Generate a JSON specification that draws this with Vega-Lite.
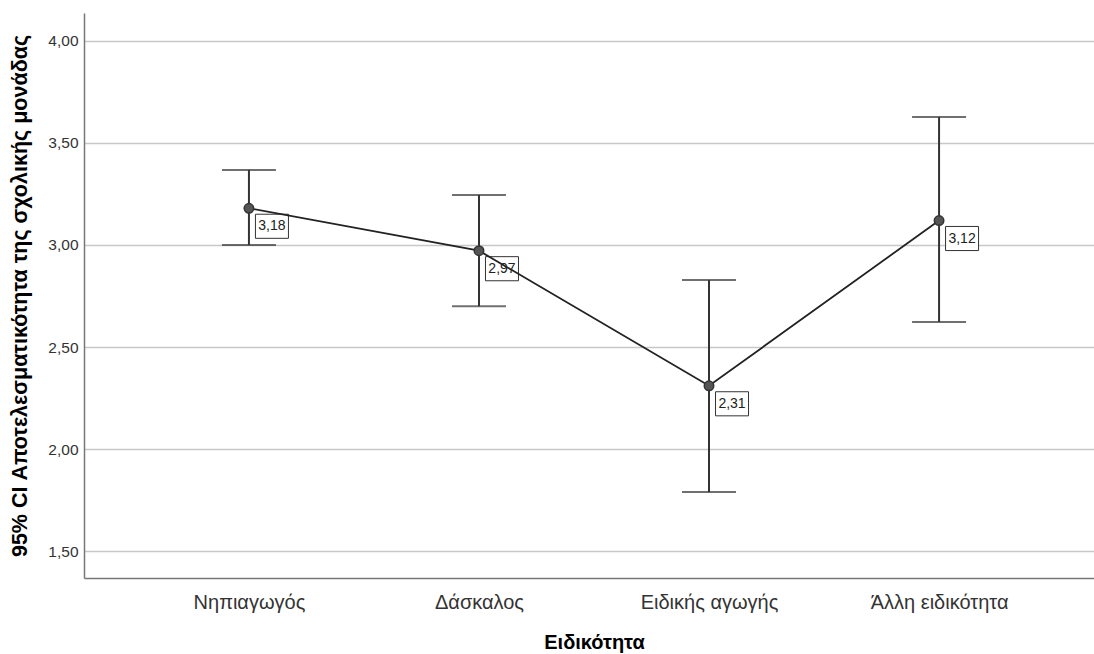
{
  "$schema": "https://vega.github.io/schema/vega-lite/v6.json",
  "width": 1020,
  "height": 565,
  "padding": {"left": 84, "top": 13, "right": 0, "bottom": 76},
  "autosize": {"type": "none"},
  "background": "white",
  "config": {
    "font": "Liberation Sans",
    "view": {"stroke": null}
  },
  "data": {
    "values": [
      {"cat": "Νηπιαγωγός", "mean": 3.18, "lo": 3.00, "hi": 3.368, "label": "3,18"},
      {"cat": "Δάσκαλος", "mean": 2.972, "lo": 2.70, "hi": 3.245, "label": "2,97"},
      {"cat": "Ειδικής αγωγής", "mean": 2.31, "lo": 1.789, "hi": 2.828, "label": "2,31"},
      {"cat": "Άλλη ειδικότητα", "mean": 3.12, "lo": 2.623, "hi": 3.627, "label": "3,12"}
    ]
  },
  "encoding": {
    "x": {
      "field": "cat",
      "type": "ordinal",
      "sort": null,
      "scale": {"type": "point", "padding": 0.717},
      "axis": {
        "title": "Ειδικότητα",
        "titleFontSize": 20,
        "titleFontWeight": "bold",
        "titleColor": "#000",
        "titlePadding": 20,
        "labelFontSize": 20,
        "labelColor": "#333",
        "labelPadding": 14,
        "labelAngle": 0,
        "ticks": false,
        "domainColor": "#777",
        "domainWidth": 1.5,
        "grid": false
      }
    }
  },
  "layer": [
    {
      "mark": {"type": "rule", "color": "#333", "strokeWidth": 2},
      "encoding": {
        "y": {
          "field": "lo",
          "type": "quantitative",
          "scale": {"domain": [1.368, 4.137], "nice": false, "zero": false},
          "axis": {
            "title": "95% CI Αποτελεσματικότητα της σχολικής μονάδας",
            "titleFontSize": 21.5,
            "titleFontWeight": "bold",
            "titleColor": "#000",
            "titlePadding": 16,
            "values": [1.5, 2, 2.5, 3, 3.5, 4],
            "labelExpr": "replace(format(datum.value, '.2f'), '.', ',')",
            "labelFontSize": 15.5,
            "labelColor": "#333",
            "labelPadding": 6,
            "ticks": false,
            "domainColor": "#777",
            "domainWidth": 1.5,
            "grid": true,
            "gridColor": "#c8c8c8",
            "gridWidth": 1.5
          }
        },
        "y2": {"field": "hi"}
      }
    },
    {
      "mark": {"type": "tick", "color": "#333", "thickness": 2, "size": 54},
      "encoding": {"y": {"field": "lo", "type": "quantitative"}}
    },
    {
      "mark": {"type": "tick", "color": "#333", "thickness": 2, "size": 54},
      "encoding": {"y": {"field": "hi", "type": "quantitative"}}
    },
    {
      "mark": {
        "type": "point",
        "shape": "M-1,-0.73L1,-0.73L1,0.73L-1,0.73Z",
        "size": 1089,
        "filled": false,
        "fill": "white",
        "fillOpacity": 1,
        "stroke": "#333",
        "strokeWidth": 1,
        "xOffset": 23,
        "yOffset": 18,
        "opacity": 1
      },
      "encoding": {"y": {"field": "mean", "type": "quantitative"}}
    },
    {
      "mark": {"type": "text", "fontSize": 14, "color": "#222", "dx": 23, "dy": 18, "align": "center", "baseline": "middle"},
      "encoding": {
        "y": {"field": "mean", "type": "quantitative"},
        "text": {"field": "label"}
      }
    },
    {
      "mark": {"type": "line", "color": "#222", "strokeWidth": 1.8},
      "encoding": {"y": {"field": "mean", "type": "quantitative"}}
    },
    {
      "mark": {"type": "point", "filled": true, "size": 90, "fill": "#555", "stroke": "#333", "strokeWidth": 1.5, "opacity": 1},
      "encoding": {"y": {"field": "mean", "type": "quantitative"}}
    }
  ]
}
